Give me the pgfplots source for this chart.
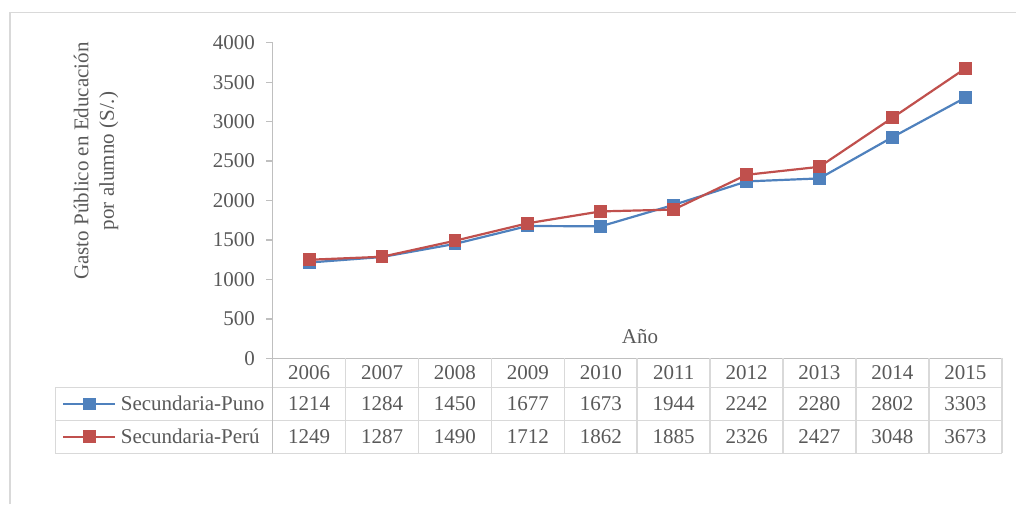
\documentclass[border=0pt]{standalone}
\usepackage{fontspec}
\setmainfont{Liberation Serif}
\usepackage{pgfplots}
\usepackage{pgfplotstable}
\pgfplotsset{compat=1.18}

\definecolor{puno}{HTML}{4F81BD}
\definecolor{peru}{HTML}{C0504D}
\definecolor{txt}{HTML}{595959}
\definecolor{grid}{HTML}{D9D9D9}
\definecolor{axgray}{HTML}{BFBFBF}

% gasto publico por alumno, secundaria
\pgfplotstableread{
anio idx puno peru
2006 1  1214 1249
2007 2  1284 1287
2008 3  1450 1490
2009 4  1677 1712
2010 5  1673 1862
2011 6  1944 1885
2012 7  2242 2326
2013 8  2280 2427
2014 9  2802 3048
2015 10 3303 3673
}\datos

\newcommand{\fnt}{\fontsize{21}{25.5}\selectfont}

\begin{document}
\begin{tikzpicture}[font=\fnt, every node/.style={text=txt}]
\path[use as bounding box] (0pt,0pt) rectangle (1016pt,-504pt);
\draw[grid, line width=1.3pt] (10pt,-504pt) -- (10pt,-12.5pt) -- (1016pt,-12.5pt);

\begin{axis}[
  at={(272.7pt,-358.3pt)}, anchor=south west,
  scale only axis, width=729pt, height=315.6pt,
  xmin=0.5, xmax=10.5, ymin=0, ymax=4000,
  axis x line=bottom, axis y line=left,
  axis line style={-, axgray, line width=1.3pt},
  xtick=\empty, ytick={0,500,...,4000},
  tick align=outside, major tick length=6.3pt,
  tick style={axgray, line width=1.3pt},
  yticklabel style={font=\fnt, text=txt, xshift=-8pt,
    /pgf/number format/.cd, 1000 sep={}, assume math mode=true},
  clip=false,
  legend style={at={(axis description cs:-0.2890,-0.0919)}, anchor=north west,
    draw=none, fill=none, inner sep=0pt, row sep=0pt,
    nodes={font=\fnt, text=txt, minimum height=32.9pt, inner ysep=2pt, inner xsep=4.5pt}},
  legend cell align=left,
  legend image code/.code={
    \draw[mark repeat=2, mark phase=2] plot coordinates {(0pt,0pt) (26pt,0pt) (52pt,0pt)};},
]
\addplot[puno, line width=2.2pt, mark=square*, mark size=5.3pt, mark options={solid}]
  table[x=idx, y=puno] {\datos};
\addlegendentry{Secundaria-Puno}
\addplot[peru, line width=2.2pt, mark=square*, mark size=5.3pt, mark options={solid}]
  table[x=idx, y=peru] {\datos};
\addlegendentry{Secundaria-Perú}
\end{axis}

\node at (640pt,-337pt) {Año};
\node[rotate=90, align=center] at (96pt,-161pt) {Gasto Público en Educación\\por alumno (S/.)};

% tabla de datos
\begin{scope}[grid, line width=1.6pt]
  \draw (55.3pt,-387.3pt) -- (1001.7pt,-387.3pt);
  \draw (55.3pt,-420.5pt) -- (1001.7pt,-420.5pt);
  \draw (55.3pt,-453.3pt) -- (1001.7pt,-453.3pt);
  \draw (55.3pt,-387.3pt) -- (55.3pt,-453.3pt);
  \foreach \k in {1,...,10} \draw ({272.7pt+72.9pt*\k},-358.3pt) -- ({272.7pt+72.9pt*\k},-453.3pt);
  \draw[axgray, line width=1.3pt] (272.7pt,-358.3pt) -- (272.7pt,-453.3pt);
\end{scope}
\foreach \v [count=\i] in {2006,2007,2008,2009,2010,2011,2012,2013,2014,2015}
  \node at ({272.7pt+72.9pt*(\i-0.5)},-372.8pt) {\v};
\foreach \v [count=\i] in {1214,1284,1450,1677,1673,1944,2242,2280,2802,3303}
  \node at ({272.7pt+72.9pt*(\i-0.5)},-404pt) {\v};
\foreach \v [count=\i] in {1249,1287,1490,1712,1862,1885,2326,2427,3048,3673}
  \node at ({272.7pt+72.9pt*(\i-0.5)},-437pt) {\v};
\end{tikzpicture}
\end{document}
